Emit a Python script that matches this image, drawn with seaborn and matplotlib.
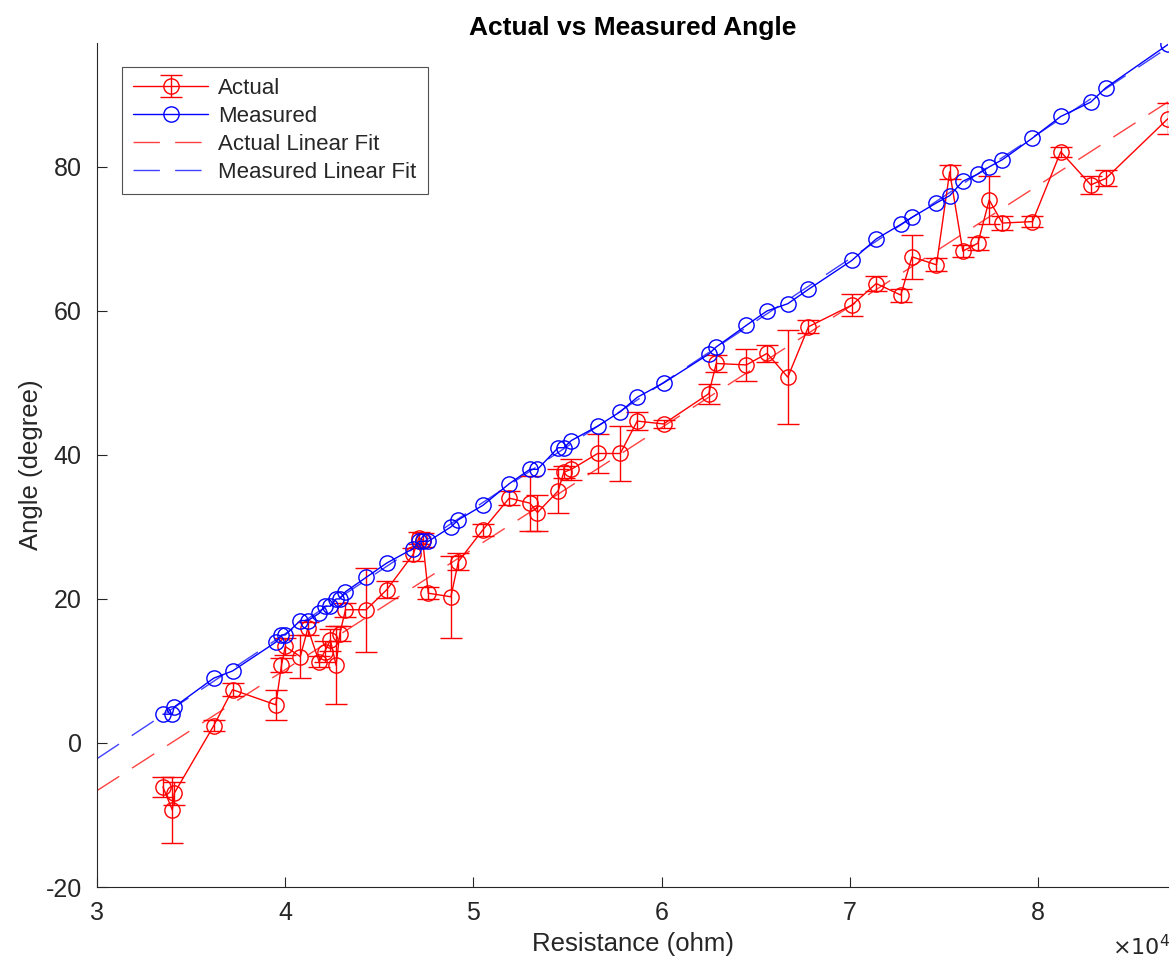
import numpy as np
import pandas as pd
import matplotlib
matplotlib.use("Agg")
import matplotlib.pyplot as plt
import seaborn as sns

# Resistance readings (ohm)
resistance = [33500, 34000, 34100, 36200, 37200, 39500, 39800, 40000, 40800, 41200,
              41800, 42100, 42400, 42700, 42900, 43200, 44300, 45400, 46800, 47100,
              47300, 47600, 48800, 49200, 50500, 51900, 53000, 53400, 54500, 54800,
              55200, 56600, 57800, 58700, 60100, 62500, 62900, 64500, 65600, 66700,
              67800, 70100, 71400, 72700, 73300, 74600, 75300, 76000, 76800, 77400,
              78100, 79700, 81200, 82800, 83600, 86900]

# Angle read from the sensor (degree)
measured = [4, 4, 5, 9, 10, 14, 15, 15, 17, 17,
            18, 19, 19, 20, 20, 21, 23, 25, 27, 28,
            28, 28, 30, 31, 33, 36, 38, 38, 41, 41,
            42, 44, 46, 48, 50, 54, 55, 58, 60, 61,
            63, 67, 70, 72, 73, 75, 76, 78, 79, 80,
            81, 84, 87, 89, 91, 97]

# Angle from the protractor (degree) and its uncertainty
actual = [-6.1, -9.3, -7.0, 2.4, 7.4, 5.3, 10.8, 13.4, 12.0, 15.9,
          11.3, 12.7, 14.3, 10.8, 15.2, 18.5, 18.5, 21.3, 26.2, 28.5,
          28.2, 20.8, 20.3, 25.2, 29.6, 34.0, 33.3, 32.0, 35.0, 37.6,
          38.0, 40.2, 40.2, 44.7, 44.3, 48.5, 52.7, 52.5, 54.1, 50.8,
          57.8, 60.8, 63.8, 62.2, 67.5, 66.4, 79.3, 68.3, 69.4, 75.4,
          72.2, 72.4, 82.1, 77.5, 78.4, 86.7]

actual_err = [1.4, 4.6, 1.6, 0.8, 0.9, 2.1, 1.0, 1.2, 3.0, 0.9,
              0.8, 1.5, 1.5, 5.4, 1.0, 1.0, 5.8, 1.2, 0.9, 0.8,
              1.0, 0.8, 5.7, 1.2, 0.8, 1.0, 3.8, 2.5, 3.0, 0.8,
              1.5, 2.7, 3.8, 1.2, 0.5, 1.4, 1.2, 2.2, 1.2, 6.5,
              0.9, 1.5, 1.0, 0.9, 3.1, 0.9, 1.0, 0.8, 0.9, 3.3,
              1.0, 0.8, 0.7, 1.3, 1.1, 2.2]

x_limits = (30000, 86900)
y_limits = (-20, 97.2)
y_ticks = [-20, 0, 20, 40, 60, 80]
x_ticks = [30000, 40000, 50000, 60000, 70000, 80000]

df = pd.DataFrame({"resistance": resistance, "measured": measured,
                   "actual": actual, "err": actual_err})

# Least-squares linear fits over the full x range
xfit = np.linspace(x_limits[0], x_limits[1], 200)
pa = np.polyfit(df["resistance"], df["actual"], 1)
pm = np.polyfit(df["resistance"], df["measured"], 1)
fit_df = pd.DataFrame({"x": xfit,
                       "actual_fit": np.polyval(pa, xfit),
                       "measured_fit": np.polyval(pm, xfit)})

sns.set_theme(style="white")
plt.rcParams["font.family"] = ["Liberation Sans", "DejaVu Sans"]
plt.rcParams["axes.unicode_minus"] = False

fig = plt.figure(figsize=(11.76, 9.71), dpi=100)
ax = fig.add_axes([0.0825, 0.0865, 0.9107, 0.8692])

red = (1.0, 0.0, 0.0)
blue = (0.0, 0.0, 1.0)

eb = ax.errorbar(df["resistance"], df["actual"], yerr=df["err"], fmt="-o",
                 color=red, lw=1.0, elinewidth=1.0, capsize=8, capthick=1.0,
                 markersize=11, markerfacecolor="none", markeredgewidth=1.0,
                 label="Actual", zorder=3)

sns.lineplot(data=df, x="resistance", y="measured", ax=ax, color=blue,
             estimator=None, sort=False, lw=1.0, marker="o", markersize=11,
             markerfacecolor="none", markeredgecolor=blue, markeredgewidth=1.0,
             label="Measured", zorder=4)

sns.lineplot(data=fit_df, x="x", y="actual_fit", ax=ax, color=red, alpha=0.75,
             lw=1.0, dashes=False, label="Actual Linear Fit", zorder=2)
sns.lineplot(data=fit_df, x="x", y="measured_fit", ax=ax, color=blue, alpha=0.75,
             lw=1.0, dashes=False, label="Measured Linear Fit", zorder=2)
for ln in ax.get_lines()[-2:]:
    ln.set_linestyle((0, (19, 11)))

ax.set_xlim(*x_limits)
ax.set_ylim(*y_limits)
ax.set_xticks(x_ticks)
ax.set_xticklabels([f"{t / 1e4:g}" for t in x_ticks])
ax.set_yticks(y_ticks)

grey = (0.15, 0.15, 0.15)
for side in ["top", "right"]:
    ax.spines[side].set_visible(False)
for side in ["left", "bottom"]:
    ax.spines[side].set_color(grey)
    ax.spines[side].set_linewidth(0.8)
ax.tick_params(direction="in", length=7, width=0.8, colors=grey,
               labelsize=18, left=True, bottom=True)
ax.tick_params(axis="y", pad=11)
ax.tick_params(axis="x", pad=10)

ax.set_xlabel("Resistance (ohm)", fontsize=18.5, color=grey, labelpad=5)
ax.set_ylabel("Angle (degree)", fontsize=18.5, color=grey, labelpad=2)
ax.set_title("Actual vs Measured Angle", fontsize=19, fontweight="bold",
             color="black", pad=6)

fig.text(0.995, 0.024, r"$\times10^4$", ha="right", va="center",
         fontsize=16, color=grey)

handles, labels = ax.get_legend_handles_labels()
order = ["Actual", "Measured", "Actual Linear Fit", "Measured Linear Fit"]
hmap = dict(zip(labels, handles))
leg = ax.legend([hmap[k] for k in order], order, loc="upper left",
                bbox_to_anchor=(0.023, 0.972), fontsize=16, frameon=True,
                fancybox=False, edgecolor=grey, handlelength=3.4,
                borderpad=0.5, labelspacing=0.32, handletextpad=0.45,
                borderaxespad=0)
leg.get_frame().set_linewidth(0.8)

fig.savefig("out.png", dpi=100, facecolor="white")
